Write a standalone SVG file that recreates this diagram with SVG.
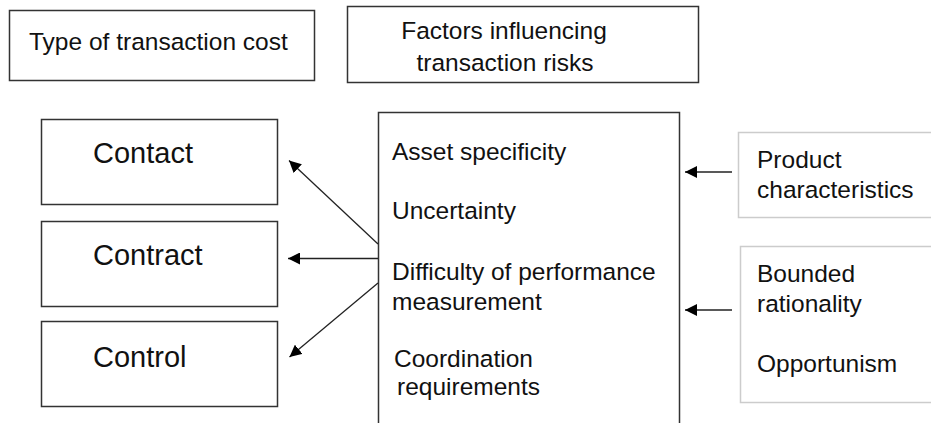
<svg xmlns="http://www.w3.org/2000/svg" width="931" height="423" viewBox="0 0 931 423">
  <style>
    .box { fill: #ffffff; stroke: #333333; stroke-width: 1.5; }
    .lbox { fill: #ffffff; stroke: #cccccc; stroke-width: 1.5; }
    .t { font-family: "Liberation Sans", Arial, sans-serif; font-size: 24.5px; fill: #111111; }
    .big { font-family: "Liberation Sans", Arial, sans-serif; font-size: 29px; fill: #111111; }
    .conn { stroke: #222222; stroke-width: 1.3; fill: none; marker-end: url(#ah); }
  </style>
  <defs>
    <marker id="ah" viewBox="0 0 12 12" refX="12" refY="6" markerWidth="12" markerHeight="12" markerUnits="userSpaceOnUse" orient="auto">
      <path d="M0,0 L12,6 L0,12 Z" fill="#000000"/>
    </marker>
  </defs>
  <rect width="931" height="423" fill="#ffffff"/>

  <g id="type-of-transaction-cost">
    <rect class="box" x="9.5" y="10.5" width="305" height="70"/>
    <text class="t" x="29" y="50">Type of transaction cost</text>
  </g>

  <g id="factors-header">
    <rect class="box" x="347.5" y="6.5" width="351" height="76"/>
    <text class="t" x="504" y="39" text-anchor="middle">Factors influencing</text>
    <text class="t" x="505" y="71" text-anchor="middle">transaction risks</text>
  </g>

  <g id="contact">
    <rect class="box" x="41.5" y="119.5" width="236" height="85"/>
    <text class="big" x="93" y="163">Contact</text>
  </g>

  <g id="contract">
    <rect class="box" x="41.5" y="221.5" width="236" height="85"/>
    <text class="big" x="93" y="265">Contract</text>
  </g>

  <g id="control">
    <rect class="box" x="41.5" y="321.5" width="236" height="85"/>
    <text class="big" x="93" y="367">Control</text>
  </g>

  <g id="factors">
    <rect class="box" x="378.5" y="112.5" width="301" height="330"/>
    <text class="t" x="392" y="160">Asset specificity</text>
    <text class="t" x="392" y="219">Uncertainty</text>
    <text class="t" x="392" y="280">Difficulty of performance</text>
    <text class="t" x="392" y="310">measurement</text>
    <text class="t" x="394" y="367">Coordination</text>
    <text class="t" x="397" y="395">requirements</text>
  </g>

  <g id="product-characteristics">
    <rect class="lbox" x="738.5" y="132.5" width="210" height="85"/>
    <text class="t" x="757" y="168">Product</text>
    <text class="t" x="757" y="198">characteristics</text>
  </g>

  <g id="behaviour">
    <rect class="lbox" x="740.5" y="246.5" width="210" height="156"/>
    <text class="t" x="757" y="282">Bounded</text>
    <text class="t" x="757" y="312">rationality</text>
    <text class="t" x="757" y="372">Opportunism</text>
  </g>

  <g id="connectors">
    <line class="conn" x1="378" y1="244" x2="289" y2="160.5"/>
    <line class="conn" x1="378" y1="258.5" x2="288" y2="258.5"/>
    <line class="conn" x1="378" y1="283" x2="289.5" y2="357"/>
    <line class="conn" x1="732" y1="172" x2="685" y2="172"/>
    <line class="conn" x1="732" y1="310" x2="685" y2="310"/>
  </g>
</svg>
